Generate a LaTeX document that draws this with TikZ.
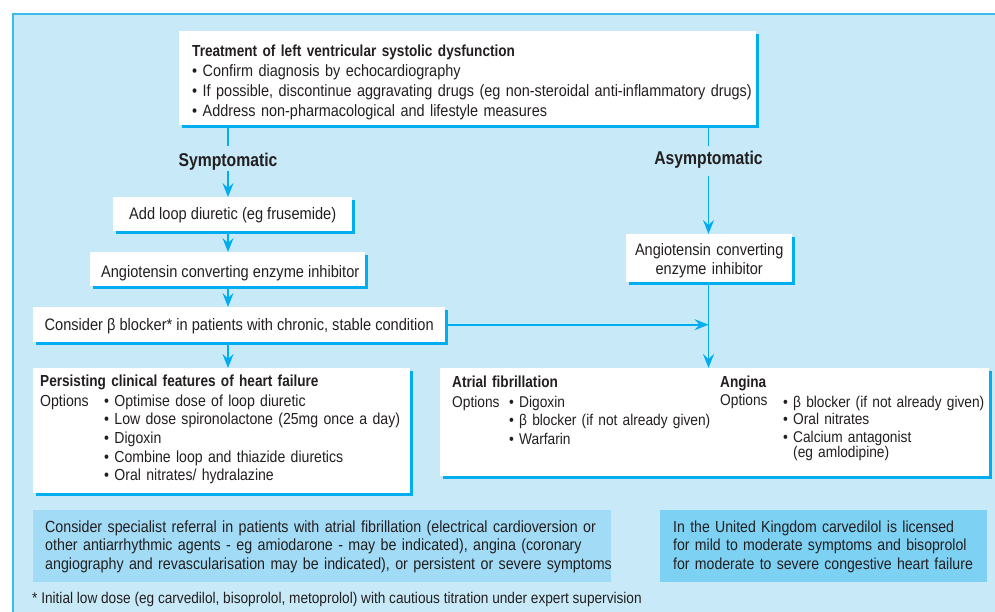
\documentclass[tikz,border=0pt]{standalone}
\usepackage{fontspec}
\setmainfont{Liberation Sans}[FakeStretch=0.88, BoldFeatures={FakeStretch=0.85}]
\usetikzlibrary{arrows.meta,shadows}
\definecolor{bgblue}{HTML}{C7E9F8}
\definecolor{frameblue}{HTML}{3CBCEC}
\definecolor{cyanline}{HTML}{00AEEF}
\definecolor{specfill}{HTML}{A2DBF5}
\definecolor{ukfill}{HTML}{7DD1F3}
\definecolor{txt}{HTML}{231F20}
\newcommand{\oneline}[1]{\mbox{#1}}
\begin{document}
\begin{tikzpicture}[x=1pt,y=-1pt,
  every node/.style={text=txt, font=\fontsize{16}{19}\selectfont},
  wbox/.style={fill=white, inner sep=0pt,
    drop shadow={shadow xshift=2.7pt, shadow yshift=-2.7pt, fill=cyanline, opacity=1}},
  cbox/.style={inner sep=0pt},
  conn/.style={draw=cyanline, line width=1.8pt},
  arr/.style={conn, -{Stealth[length=14pt,width=11pt,inset=5pt]}},
  lbl/.style={font=\bfseries\fontsize{18.5}{21}\selectfont, inner xsep=0pt},
  onefont/.style={font=\fontsize{16.6}{19}\selectfont},
]
\useasboundingbox (0,0) rectangle (995,612);
\clip (0,0) rectangle (995,612);
\path[fill=bgblue, draw=frameblue, line width=1.3pt] (13,14) rectangle (1010,630);

% top box
\node[wbox, anchor=north west, text width=551pt, inner xsep=13pt, align=left,
      text height=25pt, text depth=69pt, font=\fontsize{16.4}{20}\selectfont] (top) at (179,31)
 {\oneline{\fontsize{16}{20}\selectfont\textbf{Treatment of left ventricular systolic dysfunction}}\\
  \oneline{• Confirm diagnosis by echocardiography}\\
  \oneline{• If possible, discontinue aggravating drugs (eg non-steroidal anti-inflammatory drugs)}\\
  \oneline{• Address non-pharmacological and lifestyle measures}};

\node[lbl, anchor=base, text height=16pt, text depth=0pt, inner ysep=4.5pt] (sym) at (228,166.5) {Symptomatic};
\node[lbl, anchor=base, text height=15pt, text depth=7pt, inner ysep=4pt] (asym) at (708.5,165) {Asymptomatic};

% left column
\node[wbox, onefont, anchor=north west, minimum width=239pt, text height=22pt, text depth=12pt] (loop) at (113,197)
 {Add loop diuretic (eg frusemide)};
\node[wbox, onefont, anchor=north west, minimum width=275pt, text height=25pt, text depth=9pt] (ace) at (90,252)
 {\hspace*{5pt}Angiotensin converting enzyme inhibitor};
\node[wbox, onefont, anchor=north west, minimum width=412pt, text height=23pt, text depth=12pt] (beta) at (33,307)
 {Consider β blocker* in patients with chronic, stable condition};

% right column
\node[wbox, anchor=north west, text width=166pt, align=center, text height=21pt, text depth=27pt,
      font=\fontsize{16.5}{19}\selectfont] (race) at (626,234)
 {Angiotensin converting\\enzyme inhibitor};

% persisting
\node[wbox, anchor=north west, text width=363pt, inner xsep=7pt, align=left,
      text height=18pt, text depth=107pt, font=\fontsize{16}{18.6}\selectfont] (pers) at (33,368)
 {\oneline{\textbf{Persisting clinical features of heart failure}}\\[1.4pt]
  \oneline{\makebox[64pt][l]{Options}\begin{tabular}[t]{@{}l@{}}
   • Optimise dose of loop diuretic\\
   • Low dose spironolactone (25mg once a day)\\
   • Digoxin\\
   • Combine loop and thiazide diuretics\\
   • Oral nitrates/ hydralazine
  \end{tabular}}};

% AF / angina
\node[wbox, anchor=north west, text width=525pt, inner xsep=12pt, align=left,
      text height=19pt, text depth=89pt, font=\fontsize{15.6}{18.5}\selectfont] (afang) at (440,368)
 {\begin{minipage}[t]{268pt}
   \oneline{\fontsize{16}{18.5}\selectfont\textbf{Atrial fibrillation}}\\[1.5pt]
   \oneline{\makebox[57pt][l]{Options}\begin{tabular}[t]{@{}l@{}}
     • Digoxin\\
     • β blocker (if not already given)\\
     • Warfarin
   \end{tabular}}
  \end{minipage}%
  \begin{minipage}[t]{250pt}
   \oneline{\fontsize{16}{18.5}\selectfont\textbf{Angina}}\\[1.5pt]
   \oneline{\raisebox{2pt}{\makebox[63pt][l]{Options}}\fontsize{15.6}{17.5}\selectfont\begin{tabular}[t]{@{}l@{}}
     • β blocker (if not already given)\\
     • Oral nitrates\\
     • Calcium antagonist\\[-2.5pt]
     \hspace*{10pt}(eg amlodipine)
   \end{tabular}}
  \end{minipage}};

% bottom boxes
\node[cbox, fill=specfill, anchor=north west, text width=554pt, inner xsep=12pt, align=left,
      text height=22pt, text depth=50pt, font=\fontsize{16.2}{18.5}\selectfont] (spec) at (33,510)
 {\oneline{Consider specialist referral in patients with atrial fibrillation (electrical cardioversion or}\\
  \oneline{other antiarrhythmic agents - eg amiodarone - may be indicated), angina (coronary}\\
  \oneline{angiography and revascularisation may be indicated), or persistent or severe symptoms}};
\node[cbox, fill=ukfill, anchor=north west, text width=301pt, inner xsep=13pt, align=left,
      text height=22pt, text depth=50pt, font=\fontsize{16}{18.5}\selectfont] (uk) at (660,510)
 {\oneline{In the United Kingdom carvedilol is licensed}\\
  \oneline{for mild to moderate symptoms and bisoprolol}\\
  \oneline{for moderate to severe congestive heart failure}};

\node[cbox, anchor=base west, font=\fontsize{15.5}{18}\selectfont] (foot) at (32,603)
 {* Initial low dose (eg carvedilol, bisoprolol, metoprolol) with cautious titration under expert supervision};

% connectors
\draw[conn] (top.south -| sym) -- (sym.north);
\draw[arr] (sym.south) -- (sym.south |- loop.north);
\draw[arr] (loop.south -| sym) -- (sym |- ace.north);
\draw[arr] (ace.south -| sym) -- (sym |- beta.north);
\draw[arr] (beta.south -| sym) -- (sym |- pers.north);
\draw[conn] (top.south -| asym) -- (asym.north);
\draw[arr] (asym.south) -- (asym.south |- race.north);
\draw[arr] (race.south -| asym) -- (asym |- afang.north);
\draw[arr] (beta.east) -- (beta.east -| asym);
\end{tikzpicture}
\end{document}
